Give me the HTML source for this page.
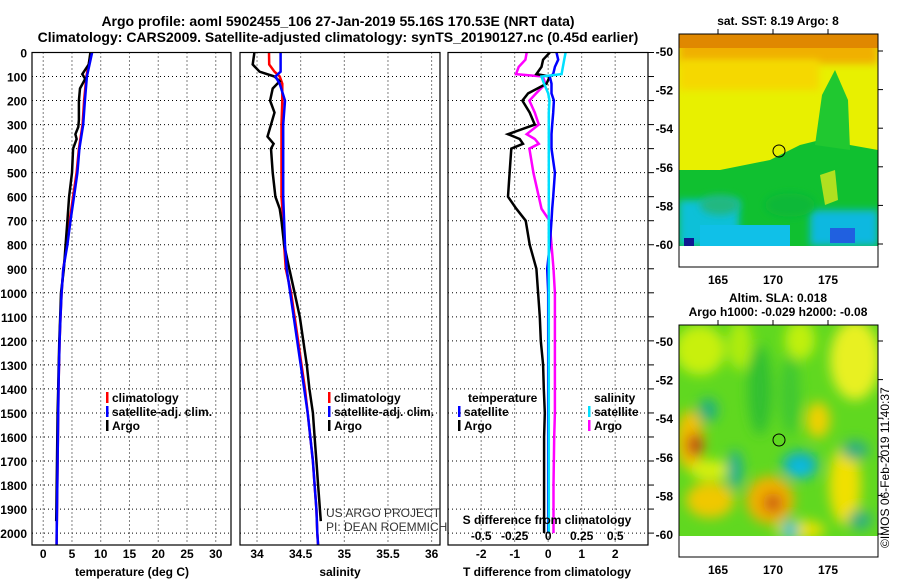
<!DOCTYPE html>
<html><head><meta charset="utf-8"><style>
body{margin:0;background:#fff;}
svg text{font-family:"Liberation Sans",Arial,sans-serif;font-weight:bold;}
</style></head><body>
<svg id="c" width="900" height="580" xmlns="http://www.w3.org/2000/svg">
<defs>
<filter id="bl" x="-50%" y="-50%" width="200%" height="200%"><feGaussianBlur stdDeviation="6"/></filter>
<filter id="bl2" x="-50%" y="-50%" width="200%" height="200%"><feGaussianBlur stdDeviation="4"/></filter>
<clipPath id="m1"><rect x="679" y="34" width="199" height="212"/></clipPath>
<clipPath id="m2"><rect x="679" y="325" width="199" height="211"/></clipPath>
</defs>
<text x="338" y="26" font-size="14" text-anchor="middle">Argo profile: aoml 5902455_106 27-Jan-2019 55.16S 170.53E (NRT data)</text>
<text x="338" y="42" font-size="14" text-anchor="middle">Climatology: CARS2009. Satellite-adjusted climatology: synTS_20190127.nc (0.45d earlier)</text>
<g id="plots"></g>
<g>
<text x="778" y="25" font-size="12" text-anchor="middle">sat. SST: 8.19 Argo: 8</text>
<g clip-path="url(#m1)">
<rect x="679" y="34" width="199" height="212" fill="#e8f000"/>
<rect x="679" y="34" width="199" height="30" fill="#f0b000" filter="url(#bl2)"/>
<rect x="679" y="34" width="199" height="14" fill="#e08800"/>
<rect x="679" y="60" width="140" height="30" fill="#f5d800" filter="url(#bl2)"/>
<path d="M679,170 L720,170 L770,160 L800,145 L820,140 L850,145 L878,150 L878,246 L679,246Z" fill="#10c030"/>
<path d="M815,145 L822,95 L835,70 L848,100 L850,150Z" fill="#20c830"/>
<rect x="679" y="200" width="60" height="46" fill="#10c0d8" filter="url(#bl2)"/>
<rect x="700" y="225" width="90" height="21" fill="#10c0e8"/>
<rect x="810" y="210" width="68" height="36" fill="#10b8e0" filter="url(#bl2)"/>
<rect x="830" y="228" width="25" height="15" fill="#2060e0"/>
<rect x="684" y="238" width="10" height="8" fill="#101890"/>
<path d="M820,175 L835,170 L838,200 L825,205Z" fill="#b0e020"/>
<ellipse cx="720" cy="205" rx="20" ry="10" fill="#20b880" filter="url(#bl2)"/>
<ellipse cx="790" cy="205" rx="25" ry="12" fill="#08b838" filter="url(#bl2)"/>
<circle cx="779" cy="151" r="6" fill="none" stroke="#000" stroke-width="1"/>
</g>
<rect x="679" y="34" width="199" height="233" fill="none" stroke="#000"/>
</g>
<g>
<text x="778" y="302" font-size="12" text-anchor="middle">Altim. SLA: 0.018</text>
<text x="778" y="316" font-size="12" text-anchor="middle">Argo h1000: -0.029 h2000: -0.08</text>
<g clip-path="url(#m2)">
<rect x="679" y="325" width="199" height="211" fill="#60d820"/>
<g filter="url(#bl)">
<ellipse cx="700" cy="350" rx="25" ry="25" fill="#c8f010"/>
<ellipse cx="740" cy="345" rx="12" ry="25" fill="#b0ec10"/>
<ellipse cx="800" cy="340" rx="15" ry="20" fill="#c0f010"/>
<ellipse cx="855" cy="360" rx="25" ry="40" fill="#e8f020"/>
<ellipse cx="760" cy="390" rx="12" ry="45" fill="#30c030"/>
<ellipse cx="790" cy="395" rx="10" ry="40" fill="#40c830"/>
<ellipse cx="690" cy="440" rx="14" ry="30" fill="#f0c000"/>
<ellipse cx="695" cy="445" rx="8" ry="12" fill="#c04010"/>
<ellipse cx="770" cy="500" rx="24" ry="24" fill="#f0b000"/>
<ellipse cx="773" cy="503" rx="10" ry="10" fill="#d06010"/>
<ellipse cx="710" cy="500" rx="24" ry="18" fill="#f0c800"/>
<ellipse cx="710" cy="470" rx="20" ry="10" fill="#d8f010"/>
<ellipse cx="800" cy="465" rx="18" ry="14" fill="#10b0c0"/>
<ellipse cx="800" cy="468" rx="9" ry="6" fill="#10c0f0"/>
<ellipse cx="818" cy="420" rx="12" ry="18" fill="#f0d000"/>
<ellipse cx="845" cy="485" rx="16" ry="40" fill="#f0e000"/>
<ellipse cx="800" cy="530" rx="25" ry="10" fill="#e8e000"/>
<ellipse cx="735" cy="470" rx="8" ry="20" fill="#20b090"/>
<ellipse cx="855" cy="450" rx="14" ry="10" fill="#30b080"/>
<ellipse cx="708" cy="410" rx="10" ry="12" fill="#20b080"/>
<ellipse cx="790" cy="530" rx="8" ry="10" fill="#20c0d0"/>
<ellipse cx="860" cy="520" rx="12" ry="10" fill="#30b080"/>
</g>
<circle cx="779" cy="440" r="6" fill="none" stroke="#000" stroke-width="1"/>
</g>
<rect x="679" y="325" width="199" height="232" fill="none" stroke="#000"/>
</g>
<text transform="translate(889,548) rotate(-90)" font-size="12" style="font-weight:normal">©IMOS 06-Feb-2019 11:40:37</text>
</svg>
<script>
const depthsT = [0,100,200,300,400,500,600,700,800,900,1000,1100,1200,1300,1400,1500,1600,1700,1800,1900,2000,2050];
const tempClim = [8.3,7.5,7.1,6.85,6.2,5.8,5.2,4.6,4.1,3.5,3.2,3.0,2.85,2.75,2.65,2.6,2.55,2.5,2.45,2.4,2.35,2.33];
const tempSat = [8.5,7.6,7.25,6.95,6.3,5.95,5.35,4.75,4.2,3.5,3.2,3.0,2.85,2.75,2.65,2.6,2.55,2.5,2.45,2.4,2.35,2.33];
const depthsArgo = [0,50,90,110,150,200,280,310,340,360,400,500,600,700,800,900,1000,1100,1200,1300,1400,1500,1600,1700,1800,1900,1950];
const tempArgo = [8.2,7.9,6.8,7.3,6.4,6.2,6.2,6.1,5.6,5.8,5.2,5.0,4.5,4.2,3.9,3.6,3.1,2.95,2.8,2.7,2.6,2.5,2.45,2.4,2.35,2.3,2.25];
const depthsS = [0,50,80,100,130,200,300,600,700,800,900,1000,1100,1200,1300,1400,1500,1600,1700,1800,1900,2000,2050];
const salClim = [34.137,34.14,34.2,34.26,34.29,34.29,34.28,34.28,34.30,34.31,34.33,34.39,34.43,34.47,34.51,34.55,34.58,34.61,34.64,34.66,34.68,34.69,34.70];
const salSat = [34.27,34.27,34.27,34.21,34.26,34.32,34.30,34.30,34.31,34.32,34.34,34.38,34.42,34.46,34.50,34.54,34.58,34.61,34.64,34.66,34.68,34.69,34.70];
const depthsSA = [0,50,80,100,120,150,200,250,300,350,380,400,500,600,650,700,800,900,1000,1100,1200,1300,1400,1500,1600,1700,1800,1900,1950];
const salArgo = [33.97,33.95,34.03,34.2,34.26,34.18,34.15,34.2,34.16,34.12,34.19,34.16,34.18,34.21,34.26,34.28,34.31,34.37,34.43,34.49,34.53,34.57,34.6,34.64,34.66,34.68,34.7,34.72,34.73];
const depthsD = [0,30,60,90,100,130,170,200,250,300,340,360,380,400,500,600,650,700,800,900,1000,1100,1200,1300,1400,1500,1600,1800,2000];
const dTArgo = [0.05,-0.15,-0.2,-0.35,0.05,-0.05,-0.6,-0.77,-0.55,-0.4,-1.2,-0.85,-0.75,-1.1,-1.15,-1.2,-0.95,-0.67,-0.55,-0.35,-0.3,-0.25,-0.22,-0.15,-0.13,-0.1,-0.12,-0.12,-0.12];
const dTSat = [0.25,0.3,0.2,0.15,0.05,0.1,0.1,0.17,0.15,0.12,0.1,0.1,0.1,0.1,0.2,0.15,0.12,0.1,0.05,-0.03,0,0,0,0,0,0,0,0,0];
const dSArgo = [-0.16,-0.17,-0.22,-0.24,-0.04,-0.02,-0.09,-0.14,-0.1,-0.07,-0.16,-0.1,-0.07,-0.14,-0.11,-0.07,-0.05,0.01,0.025,0.04,0.05,0.05,0.05,0.05,0.05,0.05,0.045,0.04,0.04];
const dSSat = [0.13,0.12,0.11,0.1,-0.05,-0.03,0,0.01,0.005,0.005,0.005,0.005,0.005,0.005,0.005,0.005,0.005,0.005,0.005,0.005,0.005,0.005,0.005,0.005,0.005,0.005,0.005,0.005,0.005];
const depthTicks = [0,100,200,300,400,500,600,700,800,900,1000,1100,1200,1300,1400,1500,1600,1700,1800,1900,2000];
const tTicks = [0,5,10,15,20,25,30];
const sTicks = [34,34.5,35,35.5,36];
const sTickLabels = ['34','34.5','35','35.5','36'];
const dTTicks = [-2,-1,0,1,2];
const dSTicks = [-0.5,-0.25,0,0.25,0.5];
const dSTickLabels = ['-0.5','-0.25','0','0.25','0.5'];

const NS='http://www.w3.org/2000/svg';
const g=document.getElementById('plots');
function el(tag,attrs,parent){const e=document.createElementNS(NS,tag);for(const k in attrs)e.setAttribute(k,attrs[k]);(parent||g).appendChild(e);return e;}
const Y0=52.5,Y1=545;
const yD=d=>52.5+d*0.2403;
function panel(x0,x1,xmin,xmax,name){
  const xs=v=>x0+(v-xmin)/(xmax-xmin)*(x1-x0);
  const p=el('g',{});
  
  
  return {xs,p,x0,x1};
}
function grid(P,xt){
  depthTicks.forEach(d=>{const l=el('line',{x1:P.x0,x2:P.x1,y1:yD(d),y2:yD(d),stroke:'#000','stroke-dasharray':'1 3','stroke-width':1},P.p);
    
    });
  xt.forEach(v=>{const l=el('line',{x1:P.xs(v),x2:P.xs(v),y1:Y0,y2:Y1,stroke:'#000','stroke-dasharray':'1 3','stroke-width':1},P.p);
    
    });
}
function line(P,xsArr,ds,color,name,fx){
  const pts=ds.map((d,i)=>(fx?fx(xsArr[i]):P.xs(xsArr[i])).toFixed(1)+','+yD(d).toFixed(1)).join(' ');
  const l=el('polyline',{points:pts,fill:'none',stroke:color,'stroke-width':2.5,'stroke-linejoin':'miter'},P.p);
  
  
}
function frame(P){const r=el('rect',{x:P.x0,y:Y0,width:P.x1-P.x0,height:Y1-Y0,fill:'none',stroke:'#000','stroke-width':1.2},P.p);
  
  }
function txt(s,x,y,opt,parent,name){const t=el('text',Object.assign({x:x,y:y,'font-size':12},opt||{}),parent);t.textContent=s;
  
  return t;}
function legend(P,x,y,items){items.forEach((it,i)=>{
  const r=el('rect',{x:x,y:y+i*14-10,width:2.5,height:11,fill:it[1]},P.p);
  
  
  txt(it[0],x+6,y+i*14,{},P.p,'legend-entry');});}

depthTicks.forEach(d=>txt(String(d),27,yD(d)+5,{'text-anchor':'end'},g,'depth-tick-label'));

const P1=panel(32,231,-1.95,32.65,'temperature-panel');
grid(P1,tTicks);
line(P1,tempClim,depthsT,'#ff0000','temp-climatology-line');
line(P1,tempArgo,depthsArgo,'#000','temp-argo-line');
line(P1,tempSat,depthsT,'#0000ff','temp-satellite-line');
frame(P1);
tTicks.forEach(v=>txt(String(v),P1.xs(v),558,{'text-anchor':'middle'},P1.p,'temp-tick-label'));
txt('temperature (deg C)',132,576,{'text-anchor':'middle'},P1.p,'temp-axis-title');
legend(P1,106,402,[['climatology','#ff0000'],['satellite-adj. clim.','#0000ff'],['Argo','#000']]);

const P2=panel(240,440,33.805,36.096,'salinity-panel');
grid(P2,sTicks);
line(P2,salClim,depthsS,'#ff0000','sal-climatology-line');
line(P2,salArgo,depthsSA,'#000','sal-argo-line');
line(P2,salSat,depthsS,'#0000ff','sal-satellite-line');
frame(P2);
sTicks.forEach((v,i)=>txt(sTickLabels[i],P2.xs(v),558,{'text-anchor':'middle'},P2.p,'sal-tick-label'));
txt('salinity',340,576,{'text-anchor':'middle'},P2.p,'sal-axis-title');
legend(P2,328,402,[['climatology','#ff0000'],['satellite-adj. clim.','#0000ff'],['Argo','#000']]);
txt('US ARGO PROJECT',326,517,{style:'font-weight:normal',fill:'#333'},P2.p,'project-credit');
txt('PI: DEAN ROEMMICH',326,531,{style:'font-weight:normal',fill:'#333'},P2.p,'pi-credit');

const P3=panel(448,648,-2.99,2.98,'difference-panel');
grid(P3,dTTicks);
const sx=v=>P3.xs(v*4);
line(P3,dSArgo,depthsD,'#ff00ff','sal-diff-argo-line',sx);
line(P3,dTArgo,depthsD,'#000','temp-diff-argo-line');
line(P3,dTSat,depthsD,'#0000ff','temp-diff-satellite-line');
line(P3,dSSat,depthsD,'#00e0ff','sal-diff-satellite-line',sx);
frame(P3);
depthTicks.forEach(d=>{const l=el('line',{x1:648,x2:654,y1:yD(d),y2:yD(d),stroke:'#000'},P3.p);
  
  });
dTTicks.forEach(v=>txt(String(v),P3.xs(v),558,{'text-anchor':'middle'},P3.p,'tdiff-tick-label'));
dSTicks.forEach((v,i)=>txt(dSTickLabels[i],sx(v),540,{'text-anchor':'middle'},P3.p,'sdiff-tick-label'));
txt('S difference from climatology',547,524,{'text-anchor':'middle'},P3.p,'sdiff-axis-title');
txt('T difference from climatology',547,576,{'text-anchor':'middle'},P3.p,'tdiff-axis-title');
txt('temperature',468,402,{},P3.p,'legend-temperature-header');
legend(P3,458,416,[['satellite','#0000ff'],['Argo','#000']]);
txt('salinity',594,402,{},P3.p,'legend-salinity-header');
legend(P3,588,416,[['satellite','#00e0ff'],['Argo','#ff00ff']]);

function mapAxes(yTop,yBot,lat0y,lat60y){
  const lonX=l=>718+(l-165)*11;
  [165,170,175].forEach(l=>{txt(String(l),lonX(l),yBot+17,{'text-anchor':'middle'},g,'lon-tick-label');
    const a=el('line',{x1:lonX(l),x2:lonX(l),y1:yTop-5,y2:yTop,stroke:'#000'});
    
    });
  [-50,-52,-54,-56,-58,-60].forEach(la=>{const y=lat0y+(la+50)/-10*(lat60y-lat0y);
    txt(String(la),673,y+5,{'text-anchor':'end'},g,'lat-tick-label');
    const a=el('line',{x1:878,x2:883,y1:y,y2:y,stroke:'#000'});
    
    });
}
mapAxes(34,267,51,244);
mapAxes(325,557,341,534);
</script>
</body></html>
